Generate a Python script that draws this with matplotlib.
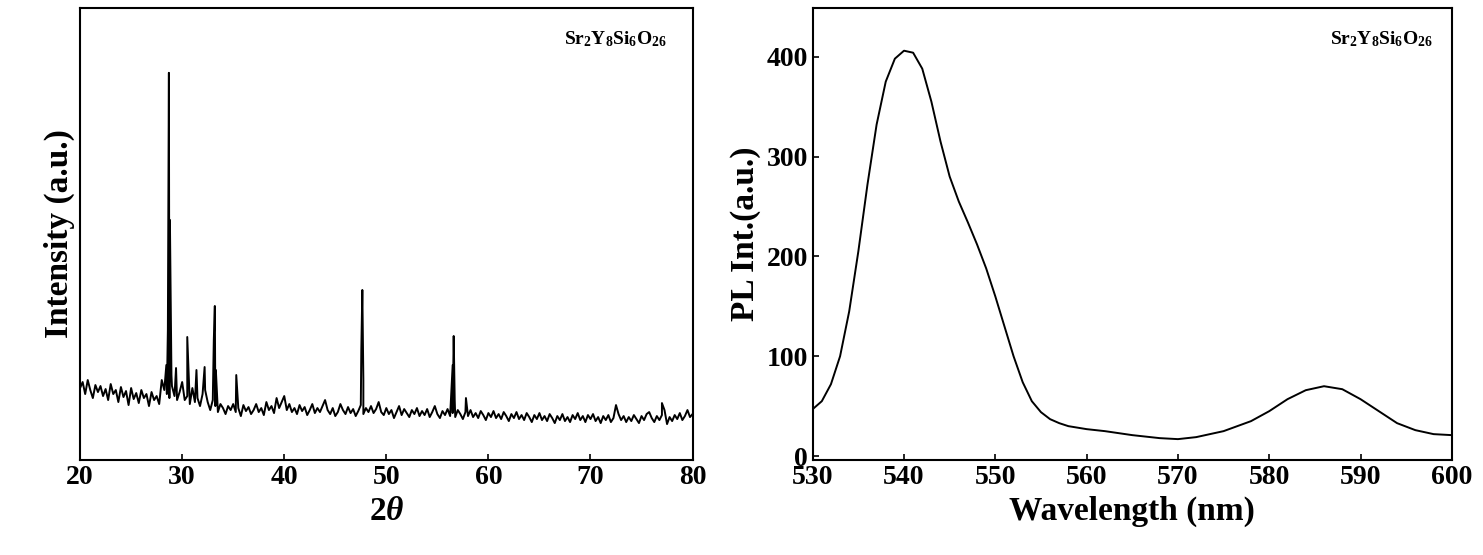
import matplotlib
matplotlib.use("Agg")

import matplotlib.pyplot as plt
import numpy as np

plt.rcParams["font.family"] = "Liberation Serif"
plt.rcParams["font.weight"] = "bold"
plt.rcParams["axes.labelweight"] = "bold"
plt.rcParams["mathtext.fontset"] = "custom"
plt.rcParams["mathtext.rm"] = "Liberation Serif:bold"
plt.rcParams["mathtext.it"] = "Liberation Serif:italic:bold"
plt.rcParams["mathtext.bf"] = "Liberation Serif:bold"

# XRD background, 2theta 20..80 step 0.25
xrd_bg = [
    72, 78, 66, 80, 70, 62, 75, 68, 74, 64, 71, 60, 76, 66, 70, 58, 73, 63, 69, 55,
    72, 61, 67, 57, 70, 62, 66, 54, 68, 60, 64, 56, 80, 70, 66, 62, 74, 64, 60, 68,
    78, 60, 64, 56, 72, 58, 62, 54, 66, 70, 58, 50, 60, 54, 48, 56, 52, 46, 54, 50,
    56, 48, 52, 44, 55, 49, 53, 46, 50, 56, 48, 52, 45, 58, 50, 54, 47, 62, 52, 58,
    64, 50, 56, 48, 52, 46, 55, 49, 53, 45, 50, 56, 47, 52, 48, 54, 60, 50, 46, 52,
    44, 48, 56, 50, 46, 53, 47, 51, 44, 49, 55, 46, 52, 48, 54, 47, 51, 58, 48, 45,
    52, 46, 50, 42, 48, 54, 45, 51, 47, 43, 50, 46, 52, 44, 49, 45, 51, 43, 48, 54,
    46, 42, 49, 45, 51, 44, 47, 43, 50, 46, 41, 48, 44, 50, 43, 47, 42, 49, 45, 40,
    47, 43, 49, 42, 46, 41, 48, 44, 39, 46, 42, 48, 41, 45, 40, 47, 43, 38, 45, 41,
    47, 40, 44, 39, 46, 42, 37, 44, 40, 46, 39, 43, 38, 45, 41, 47, 40, 44, 38, 45,
    41, 46, 39, 43, 37, 44, 40, 45, 38, 42, 55, 46, 40, 44, 38, 43, 39, 45, 41, 37,
    44, 40, 46, 48, 42, 38, 44, 40, 45, 50, 36, 43, 39, 45, 41, 47, 40, 44, 50, 43,
    46,
]
xrd_peak_pos = [28.45, 28.6, 28.7, 28.8, 28.95, 29.4, 30.5, 31.4, 32.2, 33.1, 33.2, 33.3,
                35.3, 47.55, 47.65, 47.75, 56.5, 56.6, 56.7, 57.8, 77.0]
xrd_peak_val = [95, 130, 387, 240, 85, 92, 123, 90, 93, 120, 154, 90,
                85, 110, 170, 80, 95, 124, 60, 62, 57]

# PL emission spectrum
pl_wl = [530, 531, 532, 533, 534, 535, 536, 537, 538, 539, 540, 541, 542, 543, 544, 545,
         546, 547, 548, 549, 550, 551, 552, 553, 554, 555, 556, 557, 558, 560, 562, 565,
         568, 570, 572, 575, 578, 580, 582, 584, 586, 588, 590, 592, 594, 596, 598, 600]
pl_int = [47, 55, 72, 100, 145, 205, 272, 332, 375, 398, 406, 404, 388, 355, 315, 280,
          255, 234, 212, 188, 160, 130, 100, 74, 55, 44, 37, 33, 30, 27, 25, 21,
          18, 17, 19, 25, 35, 45, 57, 66, 70, 67, 57, 45, 33, 26, 22, 21]

xrd_x = list(np.arange(20, 80.001, 0.25)) + xrd_peak_pos
xrd_y = xrd_bg + xrd_peak_val
order = np.argsort(xrd_x)
xrd_x = np.asarray(xrd_x)[order]
xrd_y = np.asarray(xrd_y)[order]

fig = plt.figure(figsize=(14.83, 5.55), dpi=100)
formula = r"$\mathrm{Sr_2Y_8Si_6O_{26}}$"

ax1 = fig.add_axes([0.054, 0.171, 0.413, 0.815])
ax1.plot(xrd_x, xrd_y, color="black", lw=1.4)
ax1.set_xlim(20, 80)
ax1.set_ylim(0, 452)
ax1.set_yticks([])
ax1.set_xticks(range(20, 81, 10))
ax1.set_xlabel(r"2$\it{\theta}$", fontsize=24)
ax1.set_ylabel("Intensity (a.u.)", fontsize=24)
ax1.text(0.79, 0.92, formula, transform=ax1.transAxes, fontsize=14)

ax2 = fig.add_axes([0.548, 0.171, 0.431, 0.815])
ax2.plot(pl_wl, pl_int, color="black", lw=1.4)
ax2.set_xlim(530, 600)
ax2.set_ylim(-4, 449)
ax2.set_xticks(range(530, 601, 10))
ax2.set_yticks(range(0, 401, 100))
ax2.set_xlabel("Wavelength (nm)", fontsize=24)
ax2.set_ylabel("PL Int.(a.u.)", fontsize=24)
ax2.text(0.81, 0.92, formula, transform=ax2.transAxes, fontsize=14)

for ax in (ax1, ax2):
    for s in ax.spines.values():
        s.set_linewidth(1.5)
    ax.tick_params(labelsize=20, width=1.2, length=4, direction="in")

fig.savefig("out.png", dpi=100)
